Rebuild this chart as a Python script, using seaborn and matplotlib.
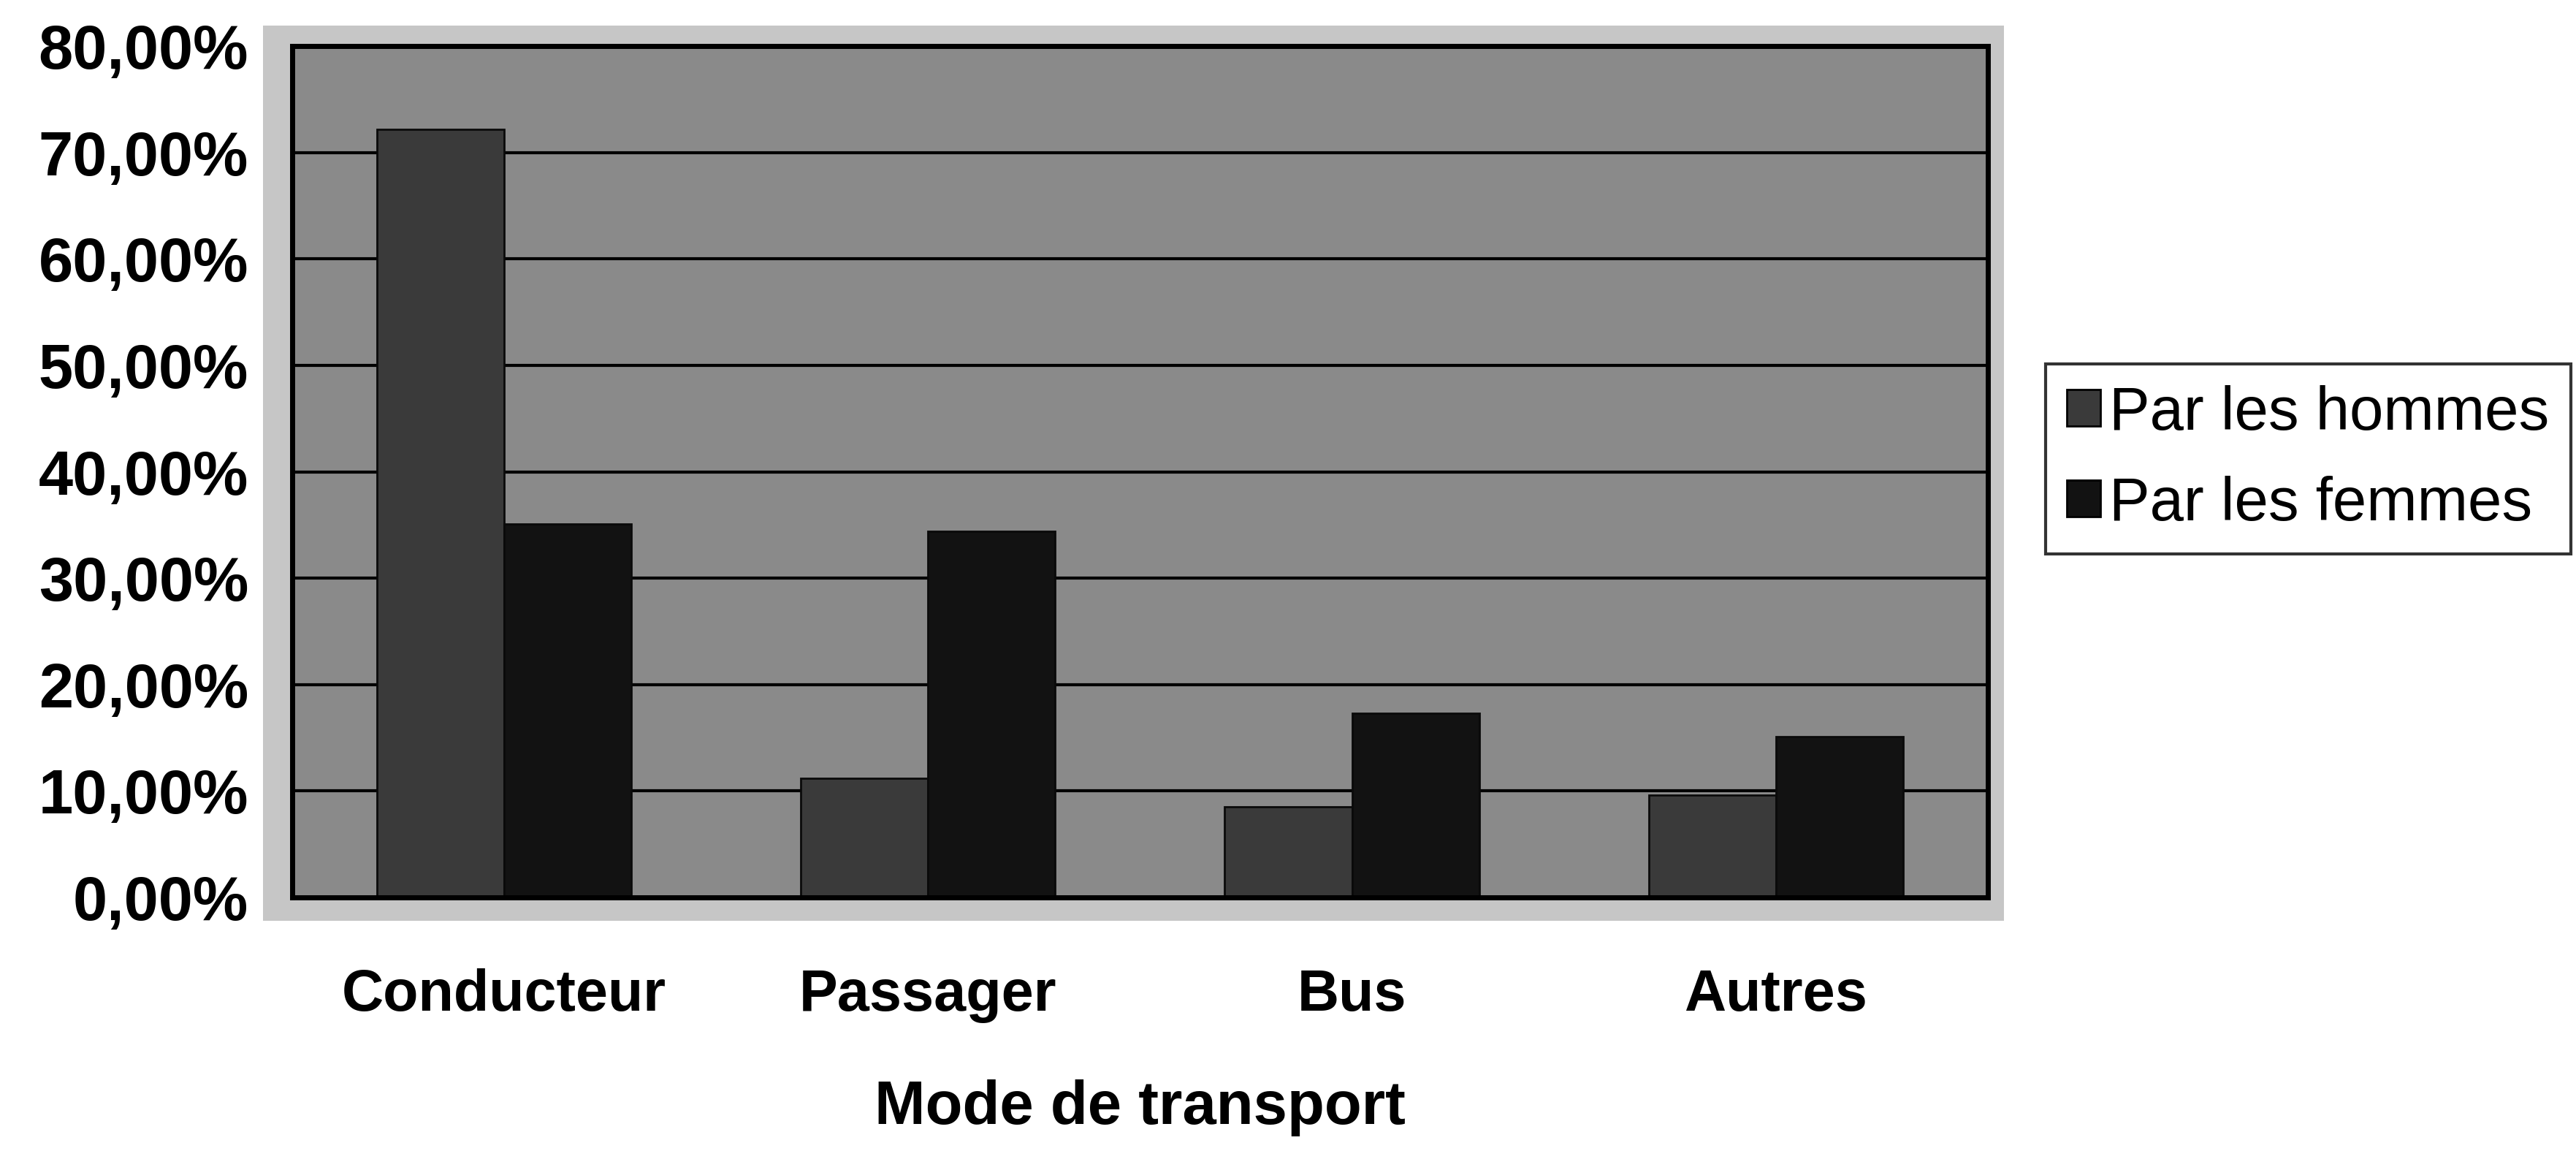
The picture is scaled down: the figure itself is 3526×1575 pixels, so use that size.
import pandas as pd
import matplotlib
matplotlib.use('Agg')
import matplotlib.pyplot as plt
import matplotlib.patches as mpatches
from matplotlib.ticker import FuncFormatter, FixedLocator
import seaborn as sns

# Data
modes = ['Conducteur', 'Passager', 'Bus', 'Autres']
hommes = [72.2, 11.2, 8.5, 9.6]
femmes = [35.1, 34.4, 17.3, 15.1]
series = ['Par les hommes', 'Par les femmes']
y_ticks = [0, 10, 20, 30, 40, 50, 60, 70, 80]

df = pd.DataFrame({
    'Mode': modes * 2,
    'Part': hommes + femmes,
    'Sexe': [series[0]] * len(modes) + [series[1]] * len(modes),
})

sns.set_style('white')
plt.rcParams['font.family'] = ['Liberation Sans', 'DejaVu Sans']
plt.rcParams['text.color'] = 'black'
plt.rcParams['xtick.color'] = 'black'
plt.rcParams['ytick.color'] = 'black'
plt.rcParams['axes.labelcolor'] = 'black'

fig = plt.figure(figsize=(35.26, 15.75), dpi=100)
fig.patch.set_facecolor('white')

# light grey chart area behind the plot
fig.patches.append(mpatches.Rectangle((0.102, 0.2), 0.676, 0.778, transform=fig.transFigure,
                                      facecolor='#c6c6c6', edgecolor='none', zorder=-5))

ax = fig.add_axes([0.1134, 0.2203, 0.6583, 0.7397])
ax.set_zorder(2)
ax.set_facecolor('#8a8a8a')

sns.barplot(data=df, x='Mode', y='Part', hue='Sexe', order=modes, hue_order=series,
            palette=['#3a3a3a', '#121212'], width=0.6, gap=0, saturation=1,
            edgecolor='#0a0a0a', linewidth=2, ax=ax, zorder=3)

ax.set_ylim(0, 80)
ax.set_xlim(-0.5, 3.5)
ax.yaxis.set_major_locator(FixedLocator(y_ticks))
ax.yaxis.set_major_formatter(FuncFormatter(lambda v, p: f'{v:.2f}%'.replace('.', ',')))
ax.grid(axis='y', color='black', linewidth=3, zorder=1)
ax.set_axisbelow(True)

for s in ax.spines.values():
    s.set_visible(True)
    s.set_color('black')
    s.set_linewidth(5)
    s.set_zorder(5)

ax.tick_params(axis='y', which='major', direction='out', length=16, width=2.5, color='black',
               labelsize=61, pad=27)
ax.tick_params(axis='x', which='major', length=0, labelsize=57, pad=70)
ax.set_xticks([0.5, 1.5, 2.5], minor=True)
ax.tick_params(axis='x', which='minor', direction='out', length=16, width=2.5, color='black')
for lbl in ax.get_yticklabels() + ax.get_xticklabels():
    lbl.set_fontweight('bold')

ax.set_ylabel('')
ax.set_xlabel('Mode de transport', fontsize=60, fontweight='bold', labelpad=55)

ax.get_legend().remove()
handles = [mpatches.Patch(facecolor='#3a3a3a', edgecolor='black', linewidth=2),
           mpatches.Patch(facecolor='#121212', edgecolor='black', linewidth=2)]
leg = fig.legend(handles, series, loc='upper left', bbox_to_anchor=(0.794, 0.684),
                 fontsize=60, frameon=True, fancybox=False, edgecolor='black',
                 handlelength=0.55, handleheight=0.55, handletextpad=0.15,
                 labelspacing=0.55, borderpad=0.35, borderaxespad=0)
leg.get_frame().set_linewidth(3)

fig.savefig('out.png', dpi=100)
